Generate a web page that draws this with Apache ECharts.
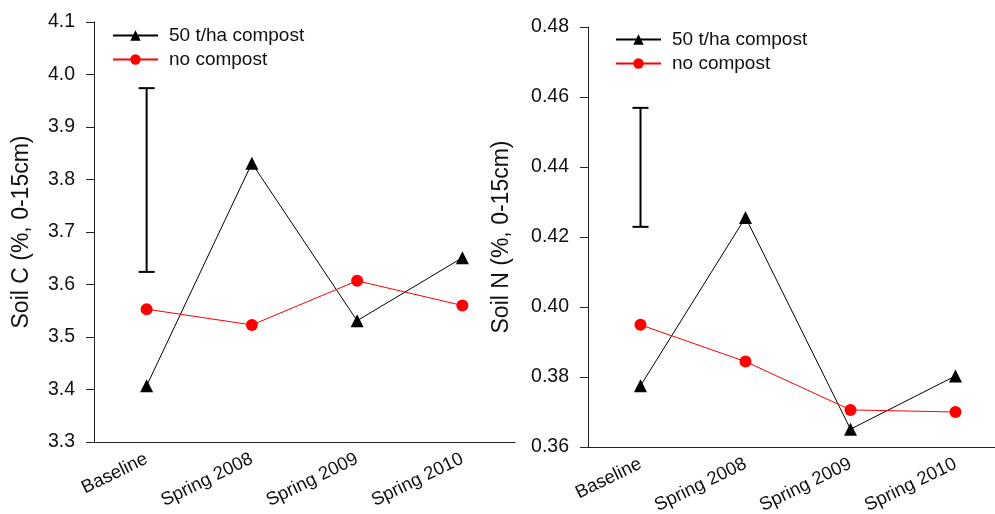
<!DOCTYPE html>
<html>
<head>
<meta charset="utf-8">
<script src="https://cdn.jsdelivr.net/npm/echarts@6/dist/echarts.min.js"></script>
<style>
  html, body { margin: 0; padding: 0; background: #fff; overflow: hidden; }
  #chart { width: 1010px; height: 514px; }
</style>
</head>
<body>
<div id="chart"></div>
<script>
// data
let periods = ["Baseline", "Spring 2008", "Spring 2009", "Spring 2010"];
let soilC_compost = [3.407, 3.831, 3.531, 3.651];
let soilC_none = [3.553, 3.523, 3.607, 3.560];
let soilC_err = [3.624, 3.974]; // error bar at Baseline (low, high)
let soilN_compost = [0.3775, 0.4256, 0.3651, 0.3803];
let soilN_none = [0.3949, 0.3844, 0.3706, 0.3700];
let soilN_err = [0.4229, 0.4569];

let font = "Liberation Sans, Arial, sans-serif";
let axisCol = "#222";

var myChart = echarts.init(document.getElementById("chart"));

function errBar(params, api) {
  let top = api.coord([api.value(0), api.value(2)]);
  let bot = api.coord([api.value(0), api.value(1)]);
  let hw = 8;
  let st = { stroke: "#000", lineWidth: 2 };
  return {
    type: "group",
    children: [
      { type: "line", shape: { x1: top[0], y1: top[1], x2: bot[0], y2: bot[1] }, style: st },
      { type: "line", shape: { x1: top[0] - hw, y1: top[1], x2: top[0] + hw, y2: top[1] }, style: st },
      { type: "line", shape: { x1: bot[0] - hw, y1: bot[1], x2: bot[0] + hw, y2: bot[1] }, style: st },
    ],
  };
}

function xAx(idx) {
  return {
    type: "category",
    gridIndex: idx,
    data: periods,
    boundaryGap: true,
    axisLine: { lineStyle: { color: axisCol, width: 1 } },
    axisTick: { alignWithLabel: true, length: 6, lineStyle: { color: axisCol } },
    axisLabel: {
      rotate: 26,
      margin: 16,
      fontSize: 18.5,
      fontFamily: font,
      color: "#111",
    },
  };
}

function yAx(idx, min, max, step, dec, name, gap) {
  return {
    type: "value",
    gridIndex: idx,
    min: min,
    max: max,
    interval: step,
    name: name,
    nameLocation: "middle",
    nameGap: gap,
    nameTextStyle: { fontSize: 23, fontFamily: font, color: "#111" },
    splitLine: { show: false },
    axisLine: { show: true, onZero: false, lineStyle: { color: axisCol, width: 1 } },
    axisTick: { show: true, length: 8, lineStyle: { color: axisCol } },
    axisLabel: {
      margin: 19,
      fontSize: 19.5,
      fontFamily: font,
      color: "#111",
      formatter: function (v) { return v.toFixed(dec); },
    },
  };
}

function legendAt(left, top) {
  return {
    orient: "vertical",
    left: left,
    top: top,
    padding: 0,
    itemWidth: 45,
    itemHeight: 13,
    itemGap: 5,
    data: ["50 t/ha compost", "no compost"],
    textStyle: { fontSize: 19, fontFamily: font, color: "#111", padding: [0, 0, 0, 6] },
  };
}

var option = {
  animation: false,
  backgroundColor: "#fff",
  grid: [
    { left: 94, top: 22, width: 421, bottom: 72, outerBoundsMode: "none" },
    { left: 588, top: 27, width: 420, bottom: 67, outerBoundsMode: "none" },
  ],
  legend: [legendAt(112, 26), legendAt(615, 30)],
  xAxis: [xAx(0), xAx(1)],
  yAxis: [
    yAx(0, 3.3, 4.1, 0.1, 1, "Soil C (%, 0-15cm)", 61),
    yAx(1, 0.36, 0.48, 0.02, 2, "Soil N (%, 0-15cm)", 75),
  ],
  series: [
    {
      name: "50 t/ha compost", type: "line", xAxisIndex: 0, yAxisIndex: 0,
      data: soilC_compost, symbol: "triangle", symbolSize: 13,
      itemStyle: { color: "#000" }, lineStyle: { color: "#000", width: 1 },
    },
    {
      name: "no compost", type: "line", xAxisIndex: 0, yAxisIndex: 0,
      data: soilC_none, symbol: "circle", symbolSize: 12,
      itemStyle: { color: "#f00" }, lineStyle: { color: "#f00", width: 1 },
    },
    {
      name: "50 t/ha compost", type: "line", xAxisIndex: 1, yAxisIndex: 1,
      data: soilN_compost, symbol: "triangle", symbolSize: 13,
      itemStyle: { color: "#000" }, lineStyle: { color: "#000", width: 1 },
    },
    {
      name: "no compost", type: "line", xAxisIndex: 1, yAxisIndex: 1,
      data: soilN_none, symbol: "circle", symbolSize: 12,
      itemStyle: { color: "#f00" }, lineStyle: { color: "#f00", width: 1 },
    },
    {
      type: "custom", xAxisIndex: 0, yAxisIndex: 0, renderItem: errBar,
      encode: { x: 0, y: [1, 2] }, data: [[0, soilC_err[0], soilC_err[1]]], z: 1,
    },
    {
      type: "custom", xAxisIndex: 1, yAxisIndex: 1, renderItem: errBar,
      encode: { x: 0, y: [1, 2] }, data: [[0, soilN_err[0], soilN_err[1]]], z: 1,
    },
  ],
};

option && myChart.setOption(option);
</script>
</body>
</html>
